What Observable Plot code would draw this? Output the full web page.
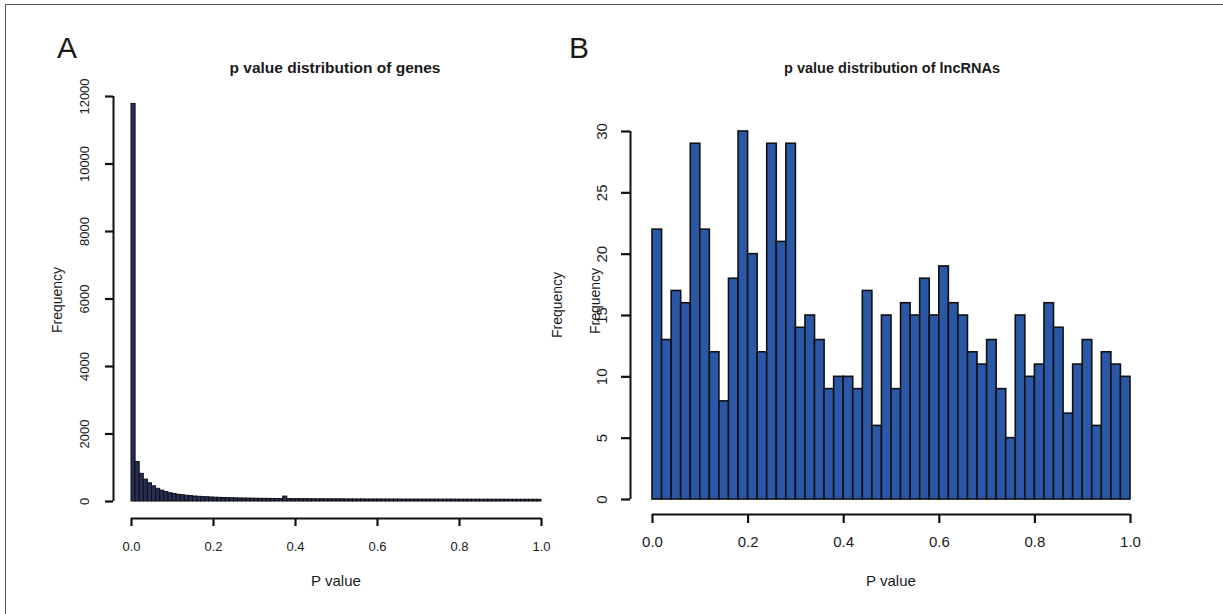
<!DOCTYPE html>
<html>
<head>
<meta charset="utf-8">
<script src="https://cdn.jsdelivr.net/npm/d3@7"></script>
<script src="https://cdn.jsdelivr.net/npm/@observablehq/plot@0.6"></script>
<style>
  html, body { margin: 0; padding: 0; background: #fff; }
  #wrap { position: relative; width: 1223px; height: 614px; overflow: hidden; background: #fff;
          font-family: "Liberation Sans", Arial, Helvetica, sans-serif; color: #1a1a1a; }
  #frame { position: absolute; left: 5px; top: 4px; width: 1230px; height: 620px;
           border-top: 1.5px solid #555; border-left: 1.5px solid #555; }
  .lbl { position: absolute; white-space: nowrap; transform: translate(-50%, -50%); }
  .rot { transform: translate(-50%, -50%) rotate(-90deg); }
  .panel { position: absolute; top: 0; }
  .panel svg { overflow: visible; }
  .panel g[aria-label$="tick"], .panel g[aria-label$="tick"] line, .panel g[aria-label$="tick"] path {
    stroke-width: 2.2px !important; stroke: #111 !important; }
</style>
</head>
<body>
<div id="wrap">
  <div id="frame"></div>
  <div id="pa" class="panel" style="left:0px"></div>
  <div id="pb" class="panel" style="left:560px"></div>

  <div class="lbl" style="left:67px; top:48px; font-size:30px;">A</div>
  <div class="lbl" style="left:579px; top:48px; font-size:30px;">B</div>
  <div class="lbl" style="left:335px; top:68px; font-size:15.5px; font-weight:bold;">p value distribution of genes</div>
  <div class="lbl" style="left:892px; top:68px; font-size:14.5px; font-weight:bold;">p value distribution of lncRNAs</div>
  <div class="lbl rot" style="left:57px; top:300px; font-size:14px;">Frequency</div>
  <div class="lbl rot" style="left:557px; top:305px; font-size:14px;">Frequency</div>
  <div class="lbl rot" style="left:595px; top:301px; font-size:14px;">Frequency</div>
  <div class="lbl" style="left:336px; top:580px; font-size:15px;">P value</div>
  <div class="lbl" style="left:891px; top:580px; font-size:15px;">P value</div>
</div>
<script>
// ---- data ----
// Panel A: p-value histogram of genes, 100 bins of width 0.01
const genesCounts = [
  11780, 1170, 820, 650, 540, 450, 375, 320, 280, 245,
  222, 200, 186, 170, 160, 148, 140, 131, 126, 118,
  113, 108, 104, 101, 96, 94, 90, 89, 86, 84,
  81, 80, 78, 77, 75, 74, 73, 145, 72, 70,
  70, 68, 69, 66, 67, 65, 66, 64, 65, 63,
  63, 64, 61, 62, 61, 60, 62, 59, 60, 59,
  60, 58, 59, 57, 58, 58, 56, 58, 56, 57,
  55, 57, 56, 55, 56, 54, 55, 56, 54, 55,
  53, 55, 54, 53, 54, 52, 54, 53, 52, 53,
  52, 53, 51, 52, 52, 51, 52, 50, 51, 50
];
const genesBinWidth = 0.01;

// Panel B: p-value histogram of lncRNAs, 50 bins of width 0.02
const lncCounts = [
  22, 13, 17, 16, 29, 22, 12, 8, 18, 30,
  20, 12, 29, 21, 29, 14, 15, 13, 9, 10,
  10, 9, 17, 6, 15, 9, 16, 15, 18, 15,
  19, 16, 15, 12, 11, 13, 9, 5, 15, 10,
  11, 16, 14, 7, 11, 13, 6, 12, 11, 10
];
const lncBinWidth = 0.02;

const xTicks = [0, 0.2, 0.4, 0.6, 0.8, 1.0];
const yTicksA = [0, 2000, 4000, 6000, 8000, 10000, 12000];
const yTicksB = [0, 5, 10, 15, 20, 25, 30];

const toBins = (counts, w) => counts.map((c, i) => ({x0: i * w, x1: (i + 1) * w, count: c}));
const binsA = toBins(genesCounts, genesBinWidth);
const binsB = toBins(lncCounts, lncBinWidth);

const font = '"Liberation Sans", Arial, Helvetica, sans-serif';

// ---- Panel A ----
const offAx = -18, offAy = 17;
const chartA = Plot.plot({
  width: 600, height: 614,
  marginLeft: 131, marginRight: 59, marginTop: 96, marginBottom: 113,
  style: {fontFamily: font, background: "transparent", color: "#1a1a1a"},
  x: {domain: [0, 1]},
  y: {domain: [0, 12000]},
  marks: [
    Plot.rectY(binsA, {x1: "x0", x2: "x1", y: "count", fill: "#262e55", stroke: "#111", strokeWidth: 1, inset: 0}),
    Plot.ruleX([0], {y1: 0, y2: 12000, dx: offAx, stroke: "#111", strokeWidth: 2}),
    Plot.axisY({ticks: yTicksA, tickFormat: "d", tickSize: 8, dx: offAx, tickRotate: -90, tickPadding: 17, fontSize: 13, label: null, strokeWidth: 2}),
    Plot.ruleY([0], {x1: 0, x2: 1, dy: offAy, stroke: "#111", strokeWidth: 2}),
    Plot.axisX({ticks: xTicks, tickFormat: ".1f", tickSize: 8, dy: offAy, tickPadding: 15, fontSize: 13, label: null, strokeWidth: 2})
  ]
});
document.getElementById("pa").appendChild(chartA);

// ---- Panel B ----
const offBx = -22, offBy = 15;
const chartB = Plot.plot({
  width: 663, height: 614,
  marginLeft: 92, marginRight: 93, marginTop: 131, marginBottom: 115,
  style: {fontFamily: font, background: "transparent", color: "#1a1a1a"},
  x: {domain: [0, 1]},
  y: {domain: [0, 30]},
  marks: [
    Plot.rectY(binsB, {x1: "x0", x2: "x1", y: "count", fill: "#2a58a6", stroke: "#111", strokeWidth: 1.6, inset: 0}),
    Plot.ruleX([0], {y1: 0, y2: 30, dx: offBx, stroke: "#111", strokeWidth: 2}),
    Plot.axisY({ticks: yTicksB, tickFormat: "d", tickSize: 9, dx: offBx, tickRotate: -90, tickPadding: 15, fontSize: 15, label: null, strokeWidth: 2}),
    Plot.ruleY([0], {x1: 0, x2: 1, dy: offBy, stroke: "#111", strokeWidth: 2}),
    Plot.axisX({ticks: xTicks, tickFormat: ".1f", tickSize: 9, dy: offBy, tickPadding: 13, fontSize: 15, label: null, strokeWidth: 2})
  ]
});
document.getElementById("pb").appendChild(chartB);
</script>
</body>
</html>
